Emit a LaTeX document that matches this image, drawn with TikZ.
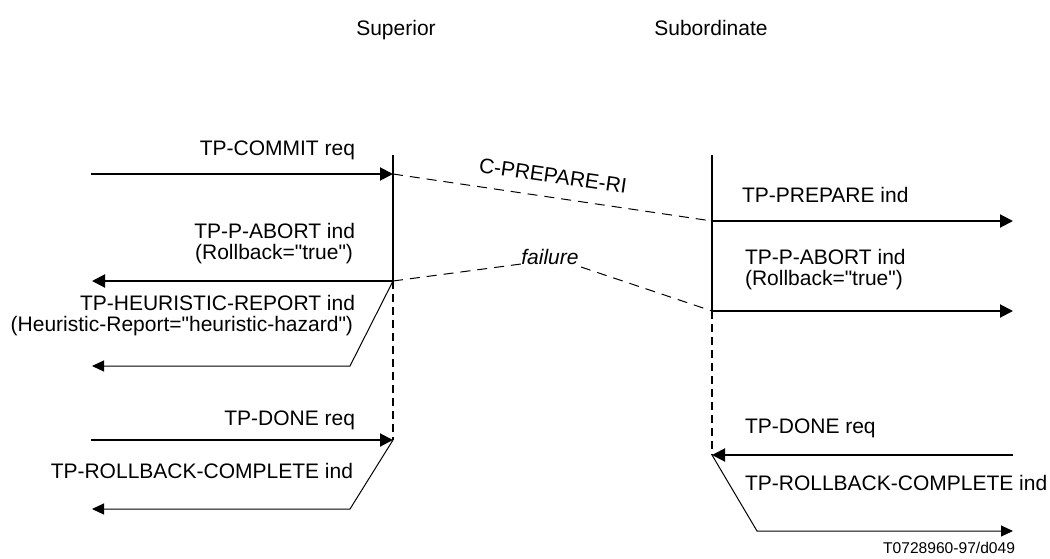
\documentclass[tikz,border=0pt]{standalone}
\usepackage{fontspec}
\setmainfont{Liberation Sans}[Ligatures=TeXOff]
\usetikzlibrary{arrows.meta}
\begin{document}
\begin{tikzpicture}[x=0.5pt,y=-0.5pt,
  every node/.style={inner sep=0pt,outer sep=0pt,font=\fontsize{10.5}{10.5}\selectfont},
  lifesolid/.style={line width=1pt},
  lifedash/.style={line width=1pt,dash pattern=on 4pt off 2.5pt},
  msgthick/.style={line width=1pt,-{Triangle[length=6.5pt,width=6.5pt]}},
  msgthin/.style={line width=0.5pt,-{Triangle[length=6pt,width=5.5pt]}},
  pdu/.style={line width=0.5pt,dash pattern=on 5pt off 3.5pt}]
\useasboundingbox (0,0) rectangle (1050,558);

% headers
\node[anchor=base] (sup) at (396,35) {Superior};
\node[anchor=base] (sub) at (711,35) {Subordinate};

% lifeline coordinates
\coordinate (S0) at (393,155);
\coordinate (S1) at (393,174);
\coordinate (S2) at (393,281);
\coordinate (S3) at (393,440);
\coordinate (R0) at (712,155);
\coordinate (R1) at (712,221);
\coordinate (R2) at (712,311);
\coordinate (R3) at (712,455);

\draw[lifesolid] (S0) -- (S2);
\draw[lifedash] (S2) -- (S3);
\draw[lifesolid] (R0) -- (R2);
\draw[lifedash] (R2) -- (R3);

% outer coordinates
\coordinate (Lcommit) at (91,174);
\coordinate (Labort) at (92,281);
\coordinate (Hbend) at (350,366);
\coordinate (Lheur) at (92,366);
\coordinate (Ldone) at (91,440);
\coordinate (Rbend) at (350,509);
\coordinate (Lroll) at (92,509);
\coordinate (Rprep) at (1013,221);
\coordinate (Rabort) at (1013,311);
\coordinate (Rdone) at (1013,455);
\coordinate (Rbend2) at (757,531);
\coordinate (Rroll) at (1013,531);

% TP-COMMIT req
\draw[msgthick] (Lcommit) -- (S1);
\node[anchor=base east] (tcommit) at (355,155) {TP-COMMIT req};

% C-PREPARE-RI
\draw[pdu] (S1) -- (R1);
\node[rotate=-8.2] (cprep) at (553,176) {C-PREPARE-RI};

% TP-PREPARE ind
\draw[msgthick] (R1) -- (Rprep);
\node[anchor=base west] (tprep) at (742,202) {TP-PREPARE ind};

% TP-P-ABORT left
\draw[msgthick] (S2) -- (Labort);
\node[anchor=base east] (tabortL1) at (355,238) {TP-P-ABORT ind};
\node[anchor=base east] (tabortL2) at (353,259) {(Rollback="true")};

% failure
\node[font=\fontsize{10.5}{10.5}\selectfont\itshape] (fail) at (550,257) {failure};
\coordinate (F1) at (521,264);
\coordinate (F2) at (581,267);
\draw[pdu] (S2) -- (F1);
\draw[pdu] (F2) -- (R2);

% TP-P-ABORT right
\draw[msgthick] (R2) -- (Rabort);
\node[anchor=base west] (tabortR1) at (745,264) {TP-P-ABORT ind};
\node[anchor=base west] (tabortR2) at (745,285) {(Rollback="true")};

% TP-HEURISTIC-REPORT
\draw[msgthin] (S2) -- (Hbend) -- (Lheur);
\node[anchor=base east] (theur1) at (355,310) {TP-HEURISTIC-REPORT ind};
\node[anchor=base east] (theur2) at (353,331) {(Heuristic-Report="heuristic-hazard")};

% TP-DONE left
\draw[msgthick] (Ldone) -- (S3);
\node[anchor=base east] (tdoneL) at (355,425) {TP-DONE req};

% TP-ROLLBACK-COMPLETE left
\draw[msgthin] (S3) -- (Rbend) -- (Lroll);
\node[anchor=base east] (trollL) at (353,478) {TP-ROLLBACK-COMPLETE ind};

% TP-DONE right
\draw[msgthick] (Rdone) -- (R3);
\node[anchor=base west] (tdoneR) at (745,433) {TP-DONE req};

% TP-ROLLBACK-COMPLETE right
\draw[msgthin] (R3) -- (Rbend2) -- (Rroll);
\node[anchor=base west] (trollR) at (745,490) {TP-ROLLBACK-COMPLETE ind};

% figure id
\node[anchor=base east,font=\fontsize{7.8}{7.8}\selectfont] (figid) at (1015,553) {T0728960-97/d049};
\end{tikzpicture}
\end{document}
